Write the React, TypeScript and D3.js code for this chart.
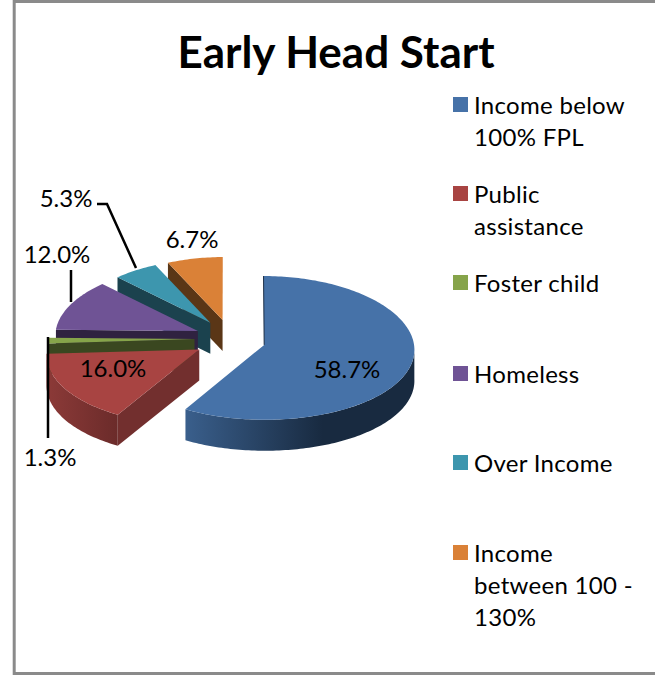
import React from "react";
import * as d3 from "d3";

const categories = ["Income below 100% FPL", "Public assistance", "Foster child", "Homeless", "Over Income", "Income between 100 - 130%"];
const values = [58.7, 16.0, 1.3, 12.0, 5.3, 6.7];
const labels = ["58.7%", "16.0%", "1.3%", "12.0%", "5.3%", "6.7%"];
const legendLines = [["Income below", "100% FPL"], ["Public", "assistance"], ["Foster child"], ["Homeless"], ["Over Income"], ["Income", "between 100 -", "130%"]];
const legendFirstBaselines = [114, 203, 292, 383, 472, 562];
const topColors = ["#4672A8", "#A84442", "#86A44A", "#6F5395", "#3D96AE", "#DA8137"];
const cutColors = ["#1B2D45", "#722F2E", "#3A4720", "#2F2240", "#1B424E", "#5A3616"];
const wallFrom = ["#3A5F8C", "#8C3A38", "#5A6E30", "#4A3764", "#28667A", "#925823"];
const wallTo = ["#182A40", "#6B2B2A", "#3A4720", "#2F2240", "#1B424E", "#5A3616"];

const FONT = "Lato, sans-serif";
const CX = 230, CY = 339.5, EX = 35.5, EY = 20, DEPTH = 31, TILT = 3, PERSP = 0.0003;

const pieGen = d3.pie<number>().sort(null).value((d) => d);
const arcs = pieGen(values);

function geom(i: number) {
  const a = arcs[i];
  const mid = (a.startAngle + a.endAngle) / 2;
  const ax = CX + EX * Math.sin(mid);
  const ay = CY - EY * Math.cos(mid);
  const rx = 147 - 10 * Math.cos(mid);
  const ry = rx * 0.48;
  const at = (t: number, dz = 0): [number, number] => {
    const x = ax + rx * Math.sin(t);
    const y = ay + TILT - ry * Math.cos(t);
    return [CX + (x - CX) * (1 + PERSP * (y - CY)), y + dz];
  };
  return { a, ax, ay, at };
}

const line = d3.line<[number, number]>();
const sample = (s: number, e: number) => {
  const n = Math.max(2, Math.ceil(Math.abs(e - s) / 0.02));
  return d3.range(n + 1).map((k) => s + ((e - s) * k) / n);
};

export default function App() {
  const order = d3.range(values.length).sort((p, q) => geom(p).ay - geom(q).ay);
  return (
    <svg width={655} height={675} style={{ position: "absolute", left: 0, top: 0, background: "#fff" }}>
      <defs>
        {values.map((_, i) => (
          <linearGradient key={i} id={`wall${i}`} gradientUnits="objectBoundingBox" x1={0} x2={1} y1={0} y2={0}>
            <stop offset="0" stopColor={wallFrom[i]} />
            <stop offset={i === 0 ? "0.6" : "1"} stopColor={wallTo[i]} />
            <stop offset="1" stopColor={wallTo[i]} />
          </linearGradient>
        ))}
      </defs>
      <path d="M655,1.5H14.2V673.5H655" fill="none" stroke="#8A8A8A" strokeWidth={3} />
      <text x={336} y={68} textAnchor="middle" fontFamily={FONT} fontWeight={700} fontSize={44} fill="#000">Early Head Start</text>
      {order.map((i) => {
        const g = geom(i);
        const { startAngle: s, endAngle: e } = g.a;
        const apex: [number, number] = [g.ax, g.ay];
        const apexLow: [number, number] = [g.ax, g.ay + DEPTH];
        const wS = Math.max(s, Math.PI / 2), wE = Math.min(e, (3 * Math.PI) / 2);
        const showWall = wE > wS;
        const wallTop = showWall ? sample(wS, wE).map((t) => g.at(t)) : [];
        const wallBot = showWall ? sample(wE, wS).map((t) => g.at(t, DEPTH)) : [];
        const cutVisible = s > Math.PI / 2 && s < 2 * Math.PI;
        const cutPts: [number, number][] = [apex, g.at(s), g.at(s, DEPTH), apexLow];
        const topPts: [number, number][] = [apex, ...sample(s, e).map((t) => g.at(t))];
        return (
          <g key={i}>
            {cutVisible && <path d={line(cutPts) + "Z"} fill={cutColors[i]} />}
            {showWall && <path d={line([...wallTop, ...wallBot]) + "Z"} fill={`url(#wall${i})`} />}
            <path d={line(topPts) + "Z"} fill={topColors[i]} />
            {i === 0 && <path d={line([apex, g.at(s)]) as string} stroke={cutColors[0]} strokeWidth={1} fill="none" />}
          </g>
        );
      })}
      <g fill="none" stroke="#000" strokeWidth={2.5}>
        <path d="M97,204H107L136,268" />
        <path d="M71,270V302" />
        <path d="M48,337V438" />
      </g>
      <g fontFamily={FONT} fontSize={24} fill="#000" textAnchor="middle">
        <text x={347} y={378}>{labels[0]}</text>
        <text x={113} y={377}>{labels[1]}</text>
        <text x={50} y={466}>{labels[2]}</text>
        <text x={57} y={263}>{labels[3]}</text>
        <text x={66} y={207}>{labels[4]}</text>
        <text x={192} y={248}>{labels[5]}</text>
      </g>
      {categories.map((c, i) => (
        <g key={c}>
          <rect x={453} y={legendFirstBaselines[i] - 17} width={15} height={15} fill={topColors[i]} />
          <text fontFamily={FONT} fontSize={24} fill="#000" letterSpacing={0.3}>
            {legendLines[i].map((t, k) => (
              <tspan key={k} x={474} y={legendFirstBaselines[i] + k * 32}>{t}</tspan>
            ))}
          </text>
        </g>
      ))}
    </svg>
  );
}
